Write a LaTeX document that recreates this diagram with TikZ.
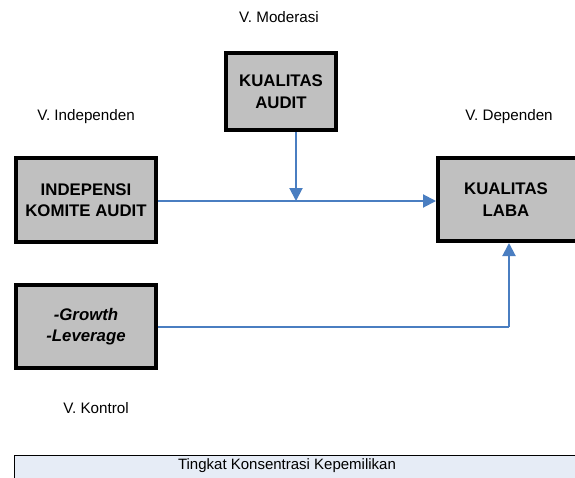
\documentclass[tikz,border=0pt]{standalone}
\usepackage{fontspec}
\setmainfont{Liberation Sans}
\usetikzlibrary{arrows.meta}
\definecolor{boxgray}{RGB}{192,192,192}
\definecolor{linkblue}{RGB}{74,126,193}
\definecolor{bandfill}{RGB}{230,236,246}
\begin{document}
\begin{tikzpicture}[x=1pt,y=-1pt,
  varbox/.style={draw=black, line width=4pt, fill=boxgray, inner sep=0pt,
    font=\fontsize{16.8}{21.5}\selectfont\bfseries, align=center},
  lbl/.style={font=\fontsize{15.2}{18}\selectfont, inner sep=0pt},
  link/.style={draw=linkblue, line width=2pt},
  tip/.style={-{Triangle[width=13pt,length=13pt]}}]
\clip (0,0) rectangle (575,477);
\fill[white] (0,0) rectangle (575,477);
% boxes
\node[varbox, minimum width=110pt, minimum height=77pt] (audit) at (281,91.5) {KUALITAS\\AUDIT};
\node[varbox, minimum width=140pt, minimum height=84pt] (indep) at (86,200) {INDEPENSI\\KOMITE AUDIT};
\node[varbox, minimum width=162pt, minimum height=83pt] (laba) at (519,199.5) {};
\node[font=\fontsize{16.8}{21.5}\selectfont\bfseries, align=center] (labatxt) at (506,199.5) {KUALITAS\\LABA};
\node[varbox, minimum width=140pt, minimum height=83pt, font=\fontsize{16.8}{21.5}\selectfont\bfseries\itshape] (ctrl) at (86,326.5) {-Growth\\-Leverage};
% labels
\node[lbl] (lmod) at (279,17) {V. Moderasi};
\node[lbl] (lind) at (86,117) {V. Independen};
\node[lbl] (ldep) at (509,117) {V. Dependen};
\node[lbl] (lkon) at (96,408) {V. Kontrol};
% bottom band
\draw[line width=0.8pt, fill=bandfill] (14.5,455) rectangle (600,500);
\node[lbl, font=\fontsize{15}{18}\selectfont] (band) at (287,466) {Tingkat Konsentrasi Kepemilikan};
% connectors
\coordinate (join) at (296,201);
\coordinate (corner) at (509,327);
\draw[link, tip] (indep.east |- join) -- (laba.west |- join);
\draw[link, tip] (audit.south -| join) -- (join);
\draw[link] (ctrl.east |- corner) -- (corner);
\draw[link, tip] (corner) -- (corner |- laba.south);
\end{tikzpicture}
\end{document}
